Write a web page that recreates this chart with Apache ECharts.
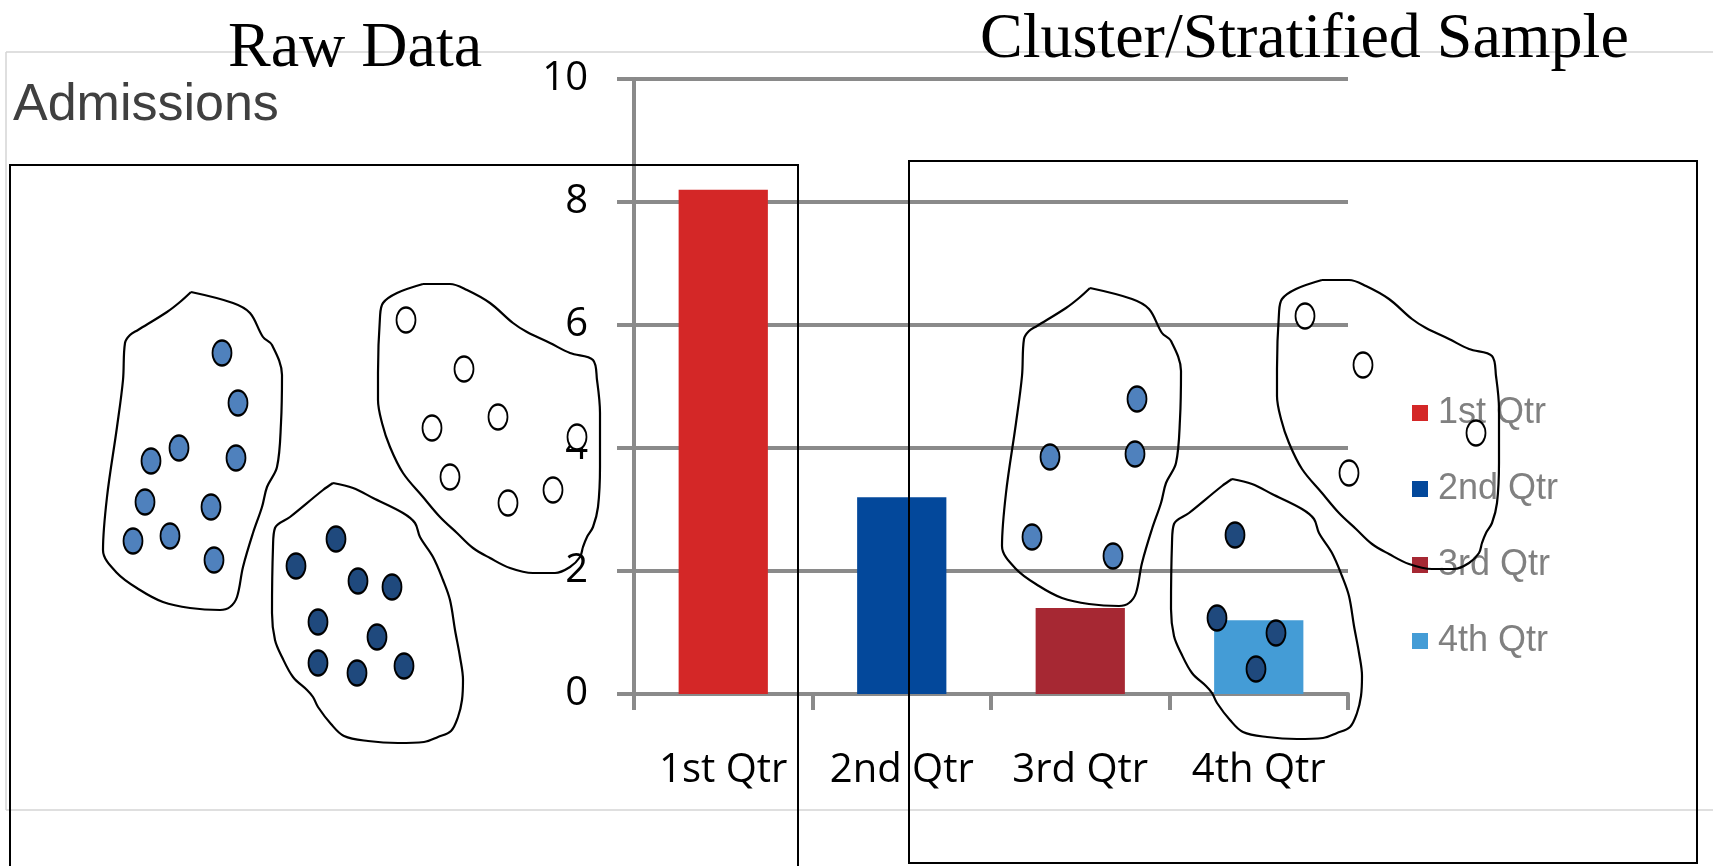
<!DOCTYPE html>
<html>
<head>
<meta charset="utf-8">
<title>Admissions</title>
<script src="https://cdn.jsdelivr.net/npm/echarts@6/dist/echarts.min.js"></script>
<style>
  html, body { margin: 0; padding: 0; background: #ffffff; }
  #chart { width: 1713px; height: 866px; }
</style>
</head>
<body>
<div id="chart"></div>
<script>
// Admissions by quarter
const categories = ['1st Qtr', '2nd Qtr', '3rd Qtr', '4th Qtr'];
const admissions = [8.2, 3.2, 1.4, 1.2];
const barColors = ['#D42727', '#03489B', '#A62833', '#449CD6'];

// Cluster outlines on the raw-data side (page pixels)
const lightCluster = [[191,292],[233,303],[250,313],[263,337],[272,345],[282,375],[281,423],[277,467],[267,487],[262,507],[253,533],[243,567],[237,597],[230,607],[220,610],[190,608],[163,602],[140,590],[117,573],[103,550],[107,497],[117,427],[123,380],[125,343],[130,335],[138,330],[167,312],[180,302],[191,292]];
const whiteCluster = [[423,284],[450,284],[467,290],[490,303],[513,323],[527,332],[550,343],[570,353],[593,360],[597,380],[600,413],[600,467],[598,507],[593,527],[587,537],[583,547],[580,557],[570,567],[555,573],[533,573],[510,568],[490,558],[473,548],[457,533],[440,517],[423,497],[403,473],[390,447],[382,423],[378,400],[378,373],[380,317],[383,303],[397,293],[423,284]];
const darkCluster = [[333,483],[353,488],[373,498],[403,513],[415,523],[420,537],[433,557],[443,580],[450,600],[455,630],[460,657],[463,680],[462,700],[458,717],[451,731],[438,737],[424,742],[398,743],[368,741],[344,736],[331,724],[318,707],[313,697],[307,690],[293,677],[282,657],[275,640],[272,613],[273,547],[275,528],[290,517],[323,490],[333,483]];

// Members of each cluster (raw data)
const rawLight = [[222,353],[238,403],[179,448],[151,461],[236,458],[145,502],[211,507],[133,541],[170,536],[214,560]];
const rawDark = [[336,539],[296,566],[358,581],[392,587],[318,622],[377,637],[318,663],[357,673],[404,666]];
const rawWhite = [[406,320],[464,369],[498,417],[432,428],[577,437],[450,477],[508,503],[553,490]];

// Members kept in the cluster/stratified sample
const sampleLight = [[1137,399],[1050,457],[1135,454],[1032,537],[1113,556]];
const sampleDark = [[1235,535],[1217,618],[1276,633],[1256,669]];
const sampleWhite = [[1305,316],[1363,365],[1476,433],[1349,473]];

// The sample side redraws the same cluster outlines further right
const sampleShift = [899, -4];

const moved = (pts, d) => pts.map(p => [p[0] + d[0], p[1] + d[1]]);

const chart = echarts.init(document.getElementById('chart'), null, { renderer: 'canvas' });

const axisGray = '#8a8a8a';
const labelFont = '"Open Sans", "Noto Sans", sans-serif';

const barSeries = categories.map((name, i) => ({
  type: 'bar',
  name: name,
  xAxisIndex: 0,
  yAxisIndex: 0,
  barGap: '-100%',
  barCategoryGap: '50%',
  itemStyle: { color: barColors[i] },
  data: categories.map((_, j) => (j === i ? admissions[i] : null)),
  z: 2
}));

const outline = (pts) => ({
  type: 'line',
  xAxisIndex: 1,
  yAxisIndex: 1,
  data: pts,
  smooth: 0.35,
  symbol: 'none',
  clip: false,
  silent: true,
  lineStyle: { color: '#000000', width: 2.2 },
  z: 6
});

const dots = (pts, fill) => ({
  type: 'scatter',
  xAxisIndex: 1,
  yAxisIndex: 1,
  data: pts,
  symbol: 'circle',
  symbolSize: [19, 25],
  clip: false,
  silent: true,
  itemStyle: { color: fill, borderColor: '#000000', borderWidth: 2, opacity: 1 },
  z: 7
});

const option = {
  animation: false,
  backgroundColor: '#ffffff',
  grid: [
    { left: 634, right: 365, top: 79, bottom: 172, containLabel: false },
    { left: 0, top: 0, width: 1713, height: 866, containLabel: false }
  ],
  xAxis: [
    {
      type: 'category',
      gridIndex: 0,
      data: categories,
      axisLine: { show: true, lineStyle: { color: axisGray, width: 4 } },
      axisTick: { show: true, interval: 0, length: 16, lineStyle: { color: axisGray, width: 4 } },
      axisLabel: { interval: 0, color: '#000000', fontFamily: labelFont, fontSize: 40, margin: 57 },
      splitLine: { show: false }
    },
    { type: 'value', gridIndex: 1, min: 0, max: 1713, show: false }
  ],
  yAxis: [
    {
      type: 'value',
      gridIndex: 0,
      min: 0,
      max: 10,
      interval: 2,
      axisLine: { show: true, lineStyle: { color: axisGray, width: 4 } },
      axisTick: { show: true, length: 17, lineStyle: { color: axisGray, width: 4 } },
      axisLabel: { color: '#000000', fontFamily: labelFont, fontSize: 40, margin: 46 },
      splitLine: { show: true, lineStyle: { color: axisGray, width: 4 } }
    },
    { type: 'value', gridIndex: 1, min: 0, max: 866, inverse: true, show: false }
  ],
  legend: {
    data: categories,
    orient: 'vertical',
    left: 1407,
    top: 390,
    icon: 'rect',
    itemWidth: 16,
    itemHeight: 16,
    itemGap: 40,
    selectedMode: false,
    textStyle: {
      color: '#808080',
      fontFamily: '"Liberation Sans", Arial, sans-serif',
      fontSize: 36,
      lineHeight: 36,
      padding: [0, 0, 0, 5]
    },
    z: 3
  },
  series: [
    ...barSeries,
    outline(lightCluster),
    outline(whiteCluster),
    outline(darkCluster),
    outline(moved(lightCluster, sampleShift)),
    outline(moved(whiteCluster, sampleShift)),
    outline(moved(darkCluster, sampleShift)),
    dots(rawLight, '#4F81BD'),
    dots(rawDark, '#1F497D'),
    dots(rawWhite, '#FFFFFF'),
    dots(sampleLight, '#4F81BD'),
    dots(sampleDark, '#1F497D'),
    dots(sampleWhite, '#FFFFFF')
  ],
  graphic: [
    // light frame around the chart area
    { type: 'line', z: 1, shape: { x1: 6, y1: 52, x2: 1713, y2: 52 }, style: { stroke: '#d4d4d4', lineWidth: 1.5 } },
    { type: 'line', z: 1, shape: { x1: 6, y1: 52, x2: 6, y2: 810 }, style: { stroke: '#d4d4d4', lineWidth: 1.5 } },
    { type: 'line', z: 1, shape: { x1: 6, y1: 810, x2: 1713, y2: 810 }, style: { stroke: '#d4d4d4', lineWidth: 1.5 } },
    // chart title
    { type: 'text', z: 4, left: 13, top: 80, style: { text: 'Admissions', fill: '#404040', font: '52px "Liberation Sans", Arial, sans-serif' } },
    // section headings
    { type: 'text', z: 8, left: 228, top: 17, style: { text: 'Raw Data', fill: '#000000', font: '64px "Liberation Serif", "Times New Roman", serif' } },
    { type: 'text', z: 8, left: 980, top: 8, style: { text: 'Cluster/Stratified Sample', fill: '#000000', font: '64px "Liberation Serif", "Times New Roman", serif' } },
    // section boxes
    { type: 'rect', z: 8, shape: { x: 10, y: 165, width: 788, height: 760 }, style: { fill: 'none', stroke: '#000000', lineWidth: 2 } },
    { type: 'rect', z: 8, shape: { x: 909, y: 161, width: 788, height: 702 }, style: { fill: 'none', stroke: '#000000', lineWidth: 2 } }
  ]
};

chart.setOption(option);
</script>
</body>
</html>
